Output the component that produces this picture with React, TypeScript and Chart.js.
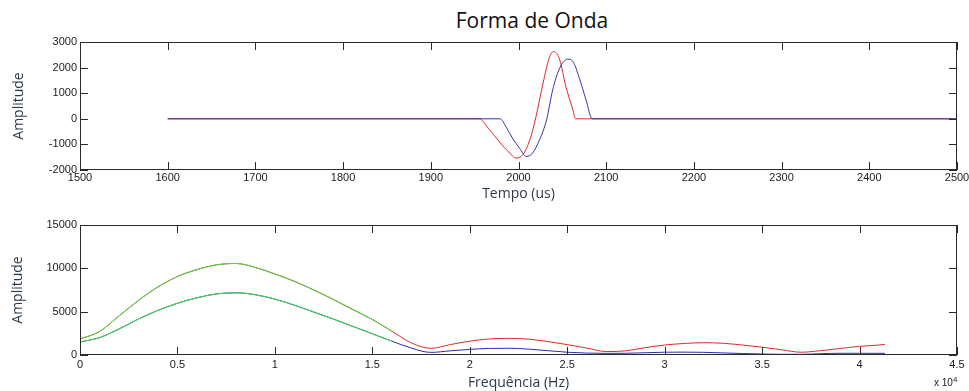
import React, { useEffect, useRef } from "react";
import { Chart, registerables } from "chart.js";

Chart.register(...registerables);

// ---- Top panel: waveform (time in us) ----
const timeTickMin = 1500;
const timeTickMax = 2500;
const ampTickMin = -2000;
const ampTickMax = 3000;

const redTime = [1600, 1955, 1967, 1978, 1990, 1997, 2005, 2013, 2020, 2028, 2035, 2040, 2047, 2054, 2062, 2065, 2500];
const redWave = [0, 0, -430, -890, -1340, -1535, -1400, -820, 90, 1390, 2370, 2630, 2300, 1260, 350, 0, 0];

const blueTime = [1600, 1979, 1986, 1993, 2001, 2009, 2016, 2024, 2032, 2039, 2047, 2056, 2062, 2070, 2077, 2084, 2500];
const blueWave = [0, 0, -330, -750, -1140, -1470, -1340, -820, -40, 1130, 1980, 2330, 2240, 1520, 740, 0, 0];

// ---- Bottom panel: spectrum (frequency in Hz) ----
const freqHz = [
  0, 1000, 2000, 3000, 4000, 5000, 6000, 7000, 8000, 9000, 10000, 11000, 12000, 13000, 14000,
  15000, 16000, 17000, 18000, 19000, 20000, 21000, 22000, 23000, 24000, 25000, 26000, 27000,
  28000, 29000, 30000, 31000, 32000, 33000, 34000, 35000, 36000, 37000, 38000, 39000, 40000,
  41000, 41300,
];
const redSpectrum = [
  1850, 2700, 4500, 6300, 7850, 9050, 9850, 10400, 10560, 10100, 9350, 8500, 7500, 6400, 5250,
  4100, 2750, 1400, 770, 1200, 1600, 1850, 1920, 1830, 1550, 1200, 800, 400,
  480, 850, 1150, 1330, 1420, 1350, 1150, 900, 600, 320, 500, 750, 1000,
  1150, 1230,
];
const blueSpectrum = [
  1500, 2000, 3000, 4150, 5150, 5970, 6600, 7050, 7180, 6950, 6450, 5750, 4950, 4150, 3300,
  2450, 1600, 800, 300, 480, 650, 760, 780, 680, 500, 320, 220, 190,
  200, 260, 320, 330, 310, 240, 170, 110, 80, 80, 150, 200, 200,
  190, 190,
];
const greenFreq = [0, 1000, 2000, 3000, 4000, 5000, 6000, 7000, 8000, 9000, 10000, 11000, 12000, 13000, 14000, 15000, 16000];
const greenUpper = [1850, 2700, 4500, 6300, 7850, 9050, 9850, 10400, 10560, 10100, 9350, 8500, 7500, 6400, 5250, 4100, 2750];
const greenLower = [1500, 2000, 3000, 4150, 5150, 5970, 6600, 7050, 7180, 6950, 6450, 5750, 4950, 4150, 3300, 2450, 1600];

const freqTickMin = 0;
const freqTickMax = 45000;
const specTickMin = 0;
const specTickMax = 15000;

const TICK_FONT = { family: "'Liberation Sans Narrow', 'Liberation Sans', Arial, sans-serif", size: 11 };
const TITLE_FONT = { family: "'Open Sans', 'Noto Sans', sans-serif", size: 14 };
const AXIS_COLOR = "#2b3a4a";

const pts = (xs: number[], ys: number[]) => xs.map((x, i) => ({ x, y: ys[i] }));

const tickMarks = {
  id: "tickMarks",
  afterDatasetsDraw(chart: any) {
    const { ctx, chartArea: a, scales } = chart;
    const xs = scales.x;
    const ys = scales.y;
    const L = 8;
    ctx.save();
    ctx.strokeStyle = "#2a2a2a";
    ctx.lineWidth = 1;
    ctx.beginPath();
    xs.ticks.forEach((t: any) => {
      const px = Math.round(xs.getPixelForValue(t.value)) + 0.5;
      ctx.moveTo(px, a.bottom);
      ctx.lineTo(px, a.bottom - L);
      ctx.moveTo(px, a.top);
      ctx.lineTo(px, a.top + L);
    });
    ys.ticks.forEach((t: any) => {
      const py = Math.round(ys.getPixelForValue(t.value)) + 0.5;
      ctx.moveTo(a.left, py);
      ctx.lineTo(a.left + L, py);
      ctx.moveTo(a.right, py);
      ctx.lineTo(a.right - L, py);
    });
    ctx.stroke();
    ctx.strokeRect(a.left + 0.5, a.top + 0.5, a.right - a.left - 1, a.bottom - a.top - 1);
    ctx.restore();
  },
};

function makeOptions(opts: {
  padTop: number;
  xHeight: number;
  xMin: number;
  xMax: number;
  xStep: number;
  xFmt: (v: number) => string;
  xTitle: string;
  xPad: number;
  yMin: number;
  yMax: number;
  yStep: number;
  yTitlePad: number;
}) {
  return {
    responsive: false,
    animation: false as const,
    events: [],
    layout: { padding: { top: opts.padTop, right: 12, left: 0, bottom: 0 } },
    plugins: { legend: { display: false }, tooltip: { enabled: false }, title: { display: false } },
    elements: { point: { radius: 0 }, line: { borderWidth: 1 } },
    scales: {
      x: {
        type: "linear",
        min: opts.xMin,
        max: opts.xMax,
        grid: { display: false, drawTicks: false },
        border: { display: false },
        ticks: {
          stepSize: opts.xStep,
          autoSkip: false,
          maxRotation: 0,
          padding: opts.xPad,
          color: "#1a1a1a",
          font: TICK_FONT,
          callback: (v: any) => opts.xFmt(Number(v)),
        },
        title: {
          display: true,
          text: opts.xTitle,
          color: AXIS_COLOR,
          font: TITLE_FONT,
          padding: { top: 0, bottom: 0 },
        },
        afterFit: (s: any) => {
          s.height = opts.xHeight;
          s.paddingLeft = 0;
          s.paddingRight = 0;
        },
      },
      y: {
        type: "linear",
        min: opts.yMin,
        max: opts.yMax,
        grid: { display: false, drawTicks: false },
        border: { display: false },
        ticks: {
          stepSize: opts.yStep,
          padding: 3,
          color: "#1a1a1a",
          font: TICK_FONT,
          callback: (v: any) => String(v),
        },
        title: {
          display: true,
          text: "Amplitude",
          color: AXIS_COLOR,
          font: TITLE_FONT,
          padding: { top: opts.yTitlePad, bottom: 0 },
        },
        afterFit: (s: any) => {
          s.width = 80;
          s.paddingTop = 0;
          s.paddingBottom = 0;
        },
      },
    },
  };
}

export default function App() {
  const topRef = useRef<HTMLCanvasElement>(null);
  const botRef = useRef<HTMLCanvasElement>(null);

  useEffect(() => {
    const top = new Chart(topRef.current as HTMLCanvasElement, {
      type: "line",
      data: {
        datasets: [
          {
            data: pts(blueTime, blueWave),
            borderColor: "#3434a8",
            cubicInterpolationMode: "monotone",
          },
          {
            data: pts(redTime, redWave),
            borderColor: "#dd2a2a",
            cubicInterpolationMode: "monotone",
          },
        ],
      },
      options: makeOptions({
        padTop: 42,
        xHeight: 32,
        xMin: timeTickMin,
        xMax: timeTickMax,
        xStep: 100,
        xFmt: (v) => String(v),
        xTitle: "Tempo (us)",
        xPad: 1,
        yMin: ampTickMin,
        yMax: ampTickMax,
        yStep: 1000,
        yTitlePad: 11,
      }) as any,
      plugins: [tickMarks],
    });

    const bot = new Chart(botRef.current as HTMLCanvasElement, {
      type: "line",
      data: {
        datasets: [
          {
            data: pts(greenFreq, greenUpper),
            borderColor: "#3fe03f",
            cubicInterpolationMode: "monotone",
          },
          {
            data: pts(greenFreq, greenLower),
            borderColor: "#3fe03f",
            cubicInterpolationMode: "monotone",
          },
          {
            data: pts(freqHz, blueSpectrum),
            borderColor: "#2a2ab0",
            cubicInterpolationMode: "monotone",
          },
          {
            data: pts(freqHz, redSpectrum),
            borderColor: "#dd2a2a",
            cubicInterpolationMode: "monotone",
          },
        ],
      },
      options: makeOptions({
        padTop: 23,
        xHeight: 36,
        xMin: freqTickMin,
        xMax: freqTickMax,
        xStep: 5000,
        xFmt: (v) => String(v / 10000),
        xTitle: "Frequência (Hz)",
        xPad: 3,
        yMin: specTickMin,
        yMax: specTickMax,
        yStep: 5000,
        yTitlePad: 10,
      }) as any,
      plugins: [tickMarks],
    });

    return () => {
      top.destroy();
      bot.destroy();
    };
  }, []);

  return (
    <div style={{ position: "absolute", left: 0, top: 0, width: 969, height: 391, background: "#fff", overflow: "hidden" }}>
      <div
        style={{
          position: "absolute",
          left: 532,
          top: 8,
          transform: "translateX(-50%)",
          whiteSpace: "nowrap",
          fontFamily: "'Open Sans', 'Noto Sans', sans-serif",
          fontSize: 21,
          lineHeight: "24px",
          color: "#111",
        }}
      >
        Forma de Onda
      </div>
      <canvas ref={topRef} width={969} height={202} style={{ position: "absolute", left: 0, top: 0 }} />
      <canvas ref={botRef} width={969} height={189} style={{ position: "absolute", left: 0, top: 202 }} />
      <div
        style={{
          position: "absolute",
          left: 934,
          top: 377,
          whiteSpace: "nowrap",
          fontFamily: "'Liberation Sans Narrow', 'Liberation Sans', Arial, sans-serif",
          fontSize: 10,
          lineHeight: "12px",
          color: "#1a1a1a",
        }}
      >
        x 10<sup style={{ fontSize: 8, verticalAlign: "4px", lineHeight: 0 }}>4</sup>
      </div>
    </div>
  );
}
